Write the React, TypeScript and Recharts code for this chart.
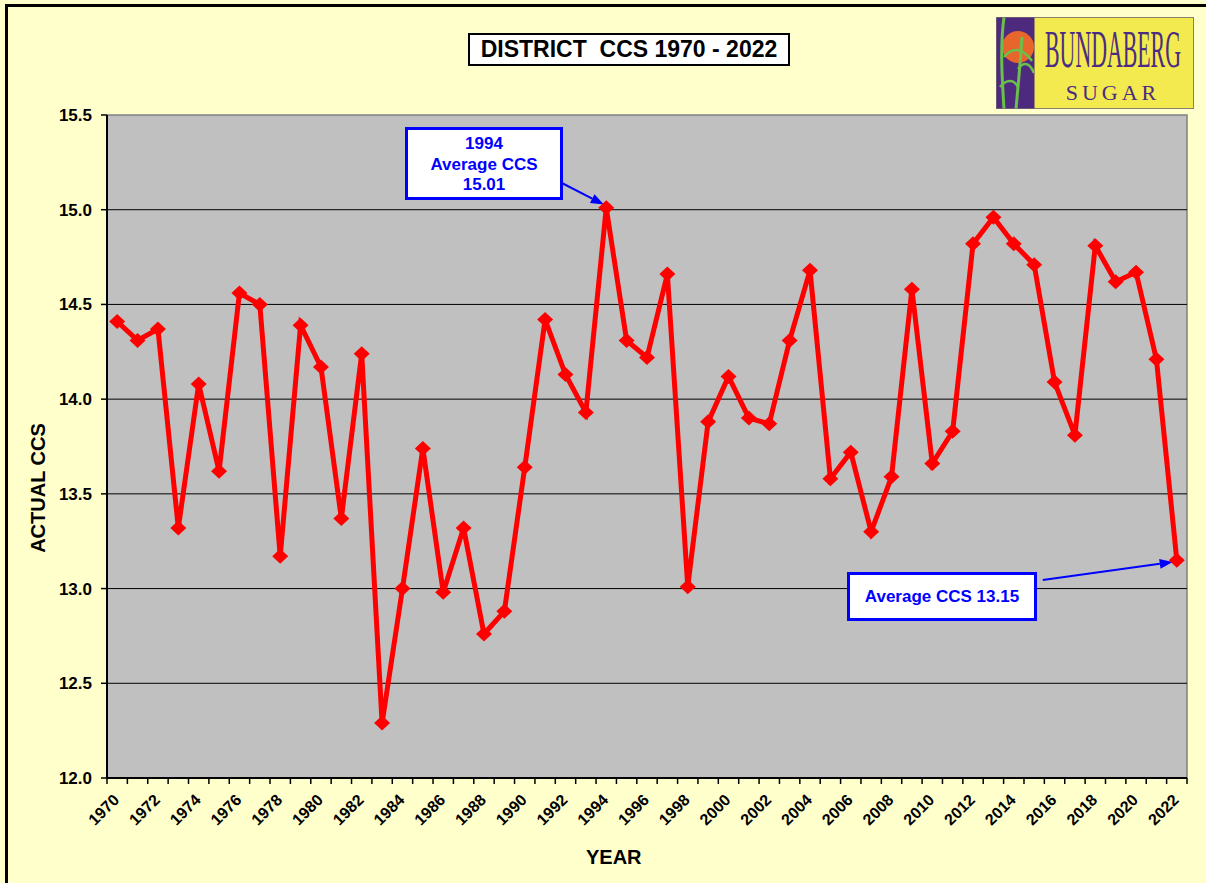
import React from 'react';
import { LineChart, Line, XAxis, YAxis, ReferenceLine, ReferenceArea } from 'recharts';

const years = [1970, 1971, 1972, 1973, 1974, 1975, 1976, 1977, 1978, 1979, 1980, 1981, 1982, 1983, 1984, 1985, 1986, 1987, 1988, 1989, 1990, 1991, 1992, 1993, 1994, 1995, 1996, 1997, 1998, 1999, 2000, 2001, 2002, 2003, 2004, 2005, 2006, 2007, 2008, 2009, 2010, 2011, 2012, 2013, 2014, 2015, 2016, 2017, 2018, 2019, 2020, 2021, 2022];
const ccs = [14.41, 14.31, 14.37, 13.32, 14.08, 13.62, 14.56, 14.5, 13.17, 14.39, 14.17, 13.37, 14.24, 12.29, 13.0, 13.74, 12.98, 13.32, 12.76, 12.88, 13.64, 14.42, 14.13, 13.93, 15.01, 14.31, 14.22, 14.66, 13.01, 13.88, 14.12, 13.9, 13.87, 14.31, 14.68, 13.58, 13.72, 13.3, 13.59, 14.58, 13.66, 13.83, 14.82, 14.96, 14.82, 14.71, 14.09, 13.81, 14.81, 14.62, 14.67, 14.21, 13.15];
const yTicks = [12.0, 12.5, 13.0, 13.5, 14.0, 14.5, 15.0, 15.5];
const gridValues = [12.5, 13.0, 13.5, 14.0, 14.5, 15.0];
const labelYears = years.filter((y) => y % 2 === 0);
const boundaries = [...years.map((y) => y - 0.5), years[years.length - 1] + 0.5];
const xTicks = [...boundaries, ...labelYears].sort((a, b) => a - b);

const chartData = years.map((year, i) => ({ year, ccs: ccs[i] }));

const FONT = 'Arial, "Liberation Sans", Helvetica, sans-serif';
const SERIF = '"Liberation Serif", "DejaVu Serif", serif';

const Diamond = (props: any) => {
  const { cx, cy } = props;
  if (cx == null || cy == null) return null;
  return (
    <polygon
      points={`${cx},${cy - 7.5} ${cx + 8},${cy} ${cx},${cy + 7.5} ${cx - 8},${cy}`}
      fill="#FF0000"
    />
  );
};

const XTick = (props: any) => {
  const { x, y, payload } = props;
  const v = payload.value;
  if (!Number.isInteger(v)) {
    return <line x1={x} y1={y} x2={x} y2={y + 6} stroke="#000" strokeWidth={1.5} />;
  }
  const tx = x + 3;
  const ty = y + 23;
  return (
    <text
      x={tx}
      y={ty}
      transform={`rotate(-45, ${tx}, ${ty})`}
      textAnchor="end"
      fontFamily={FONT}
      fontWeight="bold"
      fontSize={16}
      fill="#000"
    >
      {v}
    </text>
  );
};

const Arrow = (props: any) => {
  const { x1, y1, x2, y2 } = props;
  if (x1 == null) return null;
  const ang = Math.atan2(y2 - y1, x2 - x1);
  const len = 13;
  const w = 5;
  const bx = x2 - len * Math.cos(ang);
  const by = y2 - len * Math.sin(ang);
  const px = -Math.sin(ang) * w;
  const py = Math.cos(ang) * w;
  return (
    <g>
      <line x1={x1} y1={y1} x2={bx} y2={by} stroke="#0000FF" strokeWidth={2} />
      <polygon points={`${x2},${y2} ${bx + px},${by + py} ${bx - px},${by - py}`} fill="#0000FF" />
    </g>
  );
};

const Logo = () => (
  <svg width={198} height={92} style={{ position: 'absolute', left: 996, top: 17 }}>
    <rect x={0.5} y={0.5} width={197} height={91} fill="#F2EA4E" stroke="#8a7f6a" strokeWidth={1} />
    <rect x={0.5} y={0.5} width={38} height={91} fill="#4E2A7E" />
    <clipPath id="logoClip">
      <rect x={0.5} y={0.5} width={38} height={91} />
    </clipPath>
    <g clipPath="url(#logoClip)">
      <circle cx={22} cy={30} r={16} fill="#E8662C" />
      <path d="M8 92 C 6 60, 4 30, 8 0" stroke="#69C04A" strokeWidth={3} fill="none" />
      <path d="M20 92 C 22 70, 24 50, 26 20" stroke="#69C04A" strokeWidth={3} fill="none" />
      <path d="M8 40 C 16 30, 26 30, 36 44" stroke="#69C04A" strokeWidth={2.5} fill="none" />
      <path d="M22 52 C 28 44, 34 46, 38 56" stroke="#69C04A" strokeWidth={2.5} fill="none" />
      <path d="M4 70 C 10 62, 18 62, 22 70" stroke="#69C04A" strokeWidth={2.5} fill="none" />
    </g>
    <g transform="translate(117, 50) scale(0.42, 1)">
      <text x={0} y={0} textAnchor="middle" fontFamily={SERIF} fontSize={52} fill="#4B2C82">
        BUNDABERG
      </text>
    </g>
    <text
      x={117}
      y={83}
      textAnchor="middle"
      fontFamily={SERIF}
      fontSize={22}
      letterSpacing={4}
      fill="#4B2C82"
    >
      SUGAR
    </text>
  </svg>
);

const boxText: React.CSSProperties = {
  position: 'absolute',
  background: '#FFFFFF',
  border: '3px solid #0000FF',
  boxSizing: 'border-box',
  color: '#0000FF',
  fontFamily: FONT,
  fontWeight: 'bold',
  fontSize: 17,
  textAlign: 'center',
  whiteSpace: 'nowrap',
};

export default function App() {
  return (
    <div
      style={{
        position: 'absolute',
        left: 0,
        top: 0,
        width: 1206,
        height: 883,
        overflow: 'hidden',
        background: '#FFFFCC',
      }}
    >
      <div
        style={{
          position: 'absolute',
          left: 5,
          top: 4,
          width: 1210,
          height: 900,
          border: '3px solid #000',
          boxSizing: 'border-box',
        }}
      />
      <div style={{ position: 'absolute', left: 0, top: 0 }}>
        <LineChart width={1206} height={883} data={chartData} margin={{ top: 115, right: 19, bottom: 0, left: 0 }}>
          <XAxis
            dataKey="year"
            type="number"
            domain={[1969.5, 2022.5]}
            ticks={xTicks}
            interval={0}
            tick={<XTick />}
            tickLine={false}
            tickSize={0}
            tickMargin={0}
            axisLine={{ stroke: '#000', strokeWidth: 2 }}
            height={105}
            allowDataOverflow
          />
          <YAxis
            type="number"
            domain={[12, 15.5]}
            ticks={yTicks}
            interval={0}
            tickFormatter={(v: number) => v.toFixed(1)}
            tick={{ fontFamily: FONT, fontWeight: 'bold', fontSize: 17, fill: '#000' }}
            tickLine={{ stroke: '#000', strokeWidth: 1.5 }}
            tickSize={6}
            tickMargin={9}
            axisLine={{ stroke: '#000', strokeWidth: 2 }}
            width={107}
            allowDataOverflow
          />
          <ReferenceArea x1={1969.5} x2={2022.5} y1={12} y2={15.5} fill="#C0C0C0" fillOpacity={1} stroke="#808080" strokeWidth={1.5} />
          {gridValues.map((g) => (
            <ReferenceLine key={g} y={g} stroke="#000" strokeWidth={1} />
          ))}
          <ReferenceLine
            segment={[{ x: 1991.75, y: 15.145 }, { x: 1993.88, y: 15.027 }]}
            shape={<Arrow />}
          />
          <ReferenceLine
            segment={[{ x: 2015.42, y: 13.045 }, { x: 2021.8, y: 13.14 }]}
            shape={<Arrow />}
          />
          <Line
            dataKey="ccs"
            stroke="#FF0000"
            strokeWidth={5}
            dot={<Diamond />}
            activeDot={false}
            isAnimationActive={false}
          />
        </LineChart>
      </div>

      <div
        style={{
          position: 'absolute',
          left: 468,
          top: 33,
          width: 322,
          height: 33,
          background: '#FFFFFF',
          border: '2px solid #000',
          boxSizing: 'border-box',
          fontFamily: FONT,
          fontWeight: 'bold',
          fontSize: 23,
          lineHeight: '29px',
          textAlign: 'center',
          whiteSpace: 'pre',
          color: '#000',
        }}
      >
        {'DISTRICT  CCS 1970 - 2022'}
      </div>

      <Logo />

      <div style={{ ...boxText, left: 405, top: 127, width: 158, height: 73, lineHeight: '20.5px', paddingTop: 4 }}>
        <div>1994</div>
        <div>Average CCS</div>
        <div>15.01</div>
      </div>

      <div style={{ ...boxText, left: 847, top: 572, width: 190, height: 49, lineHeight: '43px' }}>
        Average CCS 13.15
      </div>

      <div
        style={{
          position: 'absolute',
          left: 586,
          top: 846,
          fontFamily: FONT,
          fontWeight: 'bold',
          fontSize: 20,
          color: '#000',
        }}
      >
        YEAR
      </div>

      <div
        style={{
          position: 'absolute',
          left: 38,
          top: 488,
          transform: 'translate(-50%, -50%) rotate(-90deg)',
          fontFamily: FONT,
          fontWeight: 'bold',
          fontSize: 20,
          color: '#000',
          whiteSpace: 'nowrap',
        }}
      >
        ACTUAL CCS
      </div>
    </div>
  );
}
